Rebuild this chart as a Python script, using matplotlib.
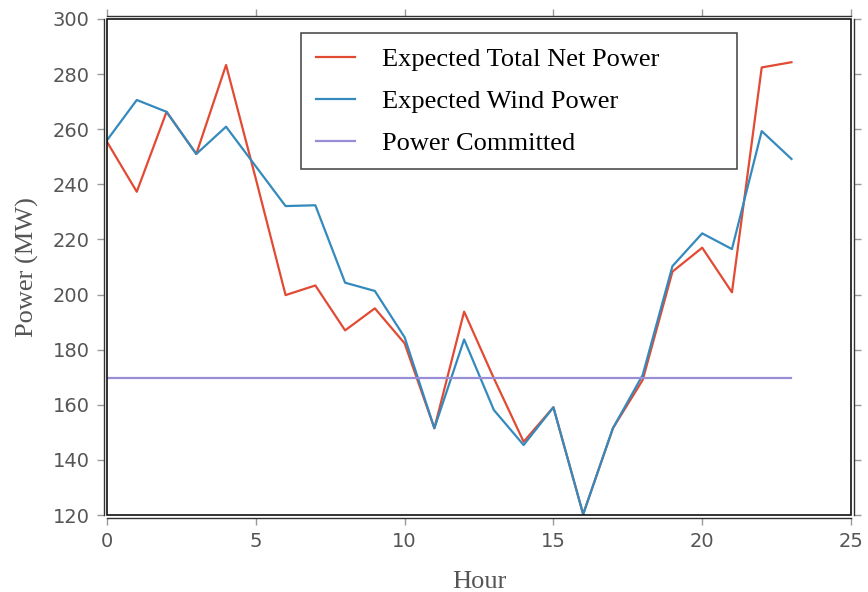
import numpy as np
import matplotlib
matplotlib.use('Agg')
import matplotlib.pyplot as plt
from matplotlib.patches import Rectangle

# Dados
hours = list(range(24))
net_power = [255.4, 237.3, 266.3, 251.0, 283.3, 242.0, 199.8, 203.3, 187.0, 195.0,
             182.3, 151.5, 193.8, 169.6, 146.6, 159.1, 120.3, 151.5, 169.0, 208.3,
             217.0, 200.8, 282.4, 284.3]
wind_power = [256.0, 270.6, 266.3, 251.0, 260.9, 246.5, 232.1, 232.4, 204.3, 201.3,
              184.5, 151.5, 183.7, 158.1, 145.4, 159.1, 120.3, 151.5, 170.8, 210.3,
              222.2, 216.5, 259.3, 249.2]
committed = [169.7] * 24

SERIF = ['Liberation Serif', 'DejaVu Serif']
GRAY = '#555555'

fig = plt.figure(figsize=(8.68, 5.92), dpi=100)
ax = fig.add_axes([0.1233, 0.130, 0.8571, 0.838])

ax.plot(hours, net_power, color='#E24A33', lw=1.6, label='Expected Total Net Power')
ax.plot(hours, wind_power, color='#348ABD', lw=1.6, label='Expected Wind Power')
ax.plot(hours, committed, color='#988ED5', lw=1.6, label='Power Committed')

ax.set_xlim(0, 25)
ax.set_ylim(120, 300)
ax.set_xticks(range(0, 26, 5))
ax.set_yticks(range(120, 301, 20))

# moldura dupla: eixo escuro deslocado + retângulo preto na borda
for s in ax.spines.values():
    s.set_color('#333333')
    s.set_linewidth(1.0)
    s.set_position(('outward', 2.4))
ax.add_patch(Rectangle((0, 0), 1, 1, transform=ax.transAxes, fill=False,
                       edgecolor='#111111', lw=1.2, clip_on=False, zorder=5))

ax.tick_params(direction='out', length=5, width=1, color='#999999',
               top=True, right=True, labelsize=14, labelcolor=GRAY, pad=5)

ax.set_xlabel('Hour', family=SERIF, fontsize=19, color=GRAY, labelpad=14)
ax.set_ylabel('Power (MW)', family=SERIF, fontsize=19, color=GRAY, labelpad=10)

leg = ax.legend(loc='upper left', bbox_to_anchor=(0.2608, 0.7016, 0.586, 0.2702),
                mode='expand', borderaxespad=0,
                prop={'family': SERIF, 'size': 19}, frameon=True, fancybox=False,
                handlelength=1.5, handletextpad=1.0, labelspacing=0.7,
                borderpad=0.55)
leg.get_frame().set_edgecolor('#111111')
leg.get_frame().set_linewidth(1.1)

plt.savefig('out.png', dpi=100)
plt.close()
